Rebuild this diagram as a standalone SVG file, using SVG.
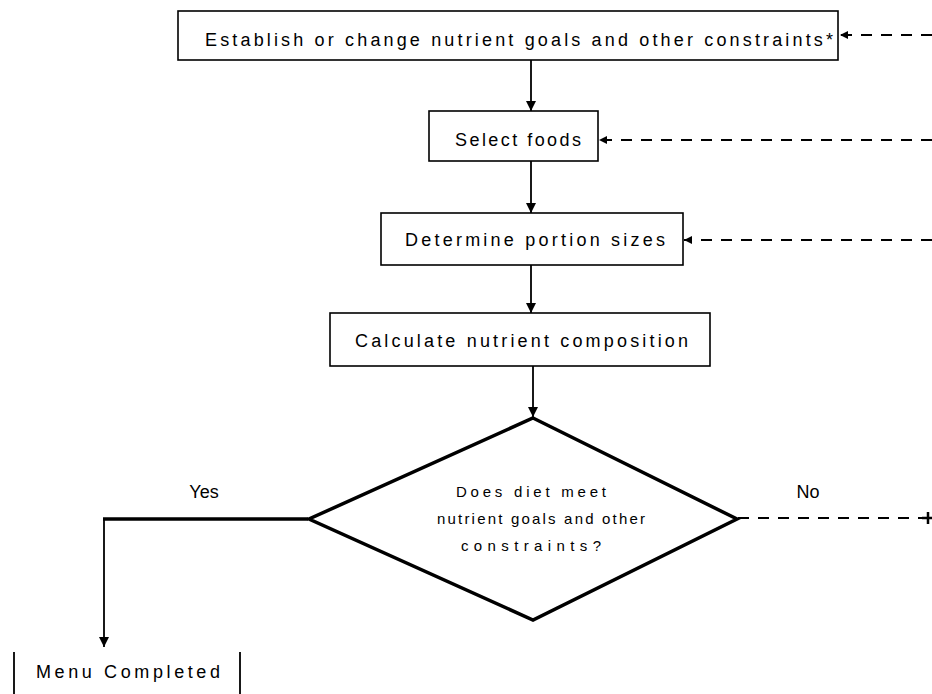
<svg xmlns="http://www.w3.org/2000/svg" width="932" height="694" viewBox="0 0 932 694">
<style>
.box{fill:#fff;stroke:#000;stroke-width:1.6}
.dia{fill:#fff;stroke:#000;stroke-width:3.5}
.t{font-family:"Liberation Sans",Arial,sans-serif;font-size:18px;fill:#000}
.dt{font-family:"Liberation Sans",Arial,sans-serif;font-size:15px;fill:#000}
.lbl{font-family:"Liberation Sans",Arial,sans-serif;font-size:18px;fill:#000}
.ln{fill:none;stroke:#000;stroke-width:1.8}
.dash{fill:none;stroke:#000;stroke-width:1.8;stroke-dasharray:11 9}
</style>
<defs>
<marker id="ah" viewBox="0 0 10 10" refX="10" refY="5" markerWidth="10" markerHeight="10" markerUnits="userSpaceOnUse" orient="auto">
<path d="M0,0 L10,5 L0,10 z" fill="#000"/>
</marker>
<marker id="ahs" viewBox="0 0 10 10" refX="10" refY="5" markerWidth="8" markerHeight="8" markerUnits="userSpaceOnUse" orient="auto">
<path d="M0,0 L10,5 L0,10 z" fill="#000"/>
</marker>
</defs>
<rect width="932" height="694" fill="#fff"/>
<g id="connectors">
<path class="ln" d="M531,60 V111" marker-end="url(#ah)"/>
<path class="ln" d="M531,161 V213" marker-end="url(#ah)"/>
<path class="ln" d="M531,265 V313" marker-end="url(#ah)"/>
<path class="ln" d="M533,366 V417" marker-end="url(#ah)"/>
<path d="M308,519 H103" fill="none" stroke="#000" stroke-width="3.5"/>
<path class="ln" d="M104,518 V647" marker-end="url(#ah)"/>
<path class="dash" d="M932,35 H840" marker-end="url(#ahs)"/>
<path class="dash" d="M932,140 H599" marker-end="url(#ahs)"/>
<path class="dash" d="M932,240 H684" marker-end="url(#ahs)"/>
<path class="dash" d="M738,518 H922"/>
<path d="M928,512 V524 M922,518 H932" stroke="#000" stroke-width="2.5" fill="none"/>
<text class="lbl" x="204" y="498" text-anchor="middle">Yes</text>
<text class="lbl" x="808" y="498" text-anchor="middle">No</text>
</g>
<g id="n1">
<rect class="box" x="178" y="11" width="660" height="49"/>
<text class="t" x="205" y="46" textLength="628" lengthAdjust="spacing">Establish or change nutrient goals and other constraints*</text>
</g>
<g id="n2">
<rect class="box" x="429" y="111" width="169" height="50"/>
<text class="t" x="455" y="146" textLength="126" lengthAdjust="spacing">Select foods</text>
</g>
<g id="n3">
<rect class="box" x="381" y="213" width="302" height="52"/>
<text class="t" x="405" y="246" textLength="260" lengthAdjust="spacing">Determine portion sizes</text>
</g>
<g id="n4">
<rect class="box" x="330" y="313" width="380" height="53"/>
<text class="t" x="355" y="347" textLength="333" lengthAdjust="spacing">Calculate nutrient composition</text>
</g>
<g id="n5">
<path class="dia" d="M533,418 L737,519 L533,620 L309,519 Z"/>
<text class="dt" x="456" y="497" textLength="150" lengthAdjust="spacing">Does diet meet</text>
<text class="dt" x="437" y="524" textLength="208" lengthAdjust="spacing">nutrient goals and other</text>
<text class="dt" x="461" y="551" textLength="140" lengthAdjust="spacing">constraints?</text>
</g>
<g id="n6">
<path class="ln" d="M14,652 V694 M240,652 V694"/>
<text class="t" x="36" y="678" textLength="184" lengthAdjust="spacing">Menu Completed</text>
</g>
</svg>
